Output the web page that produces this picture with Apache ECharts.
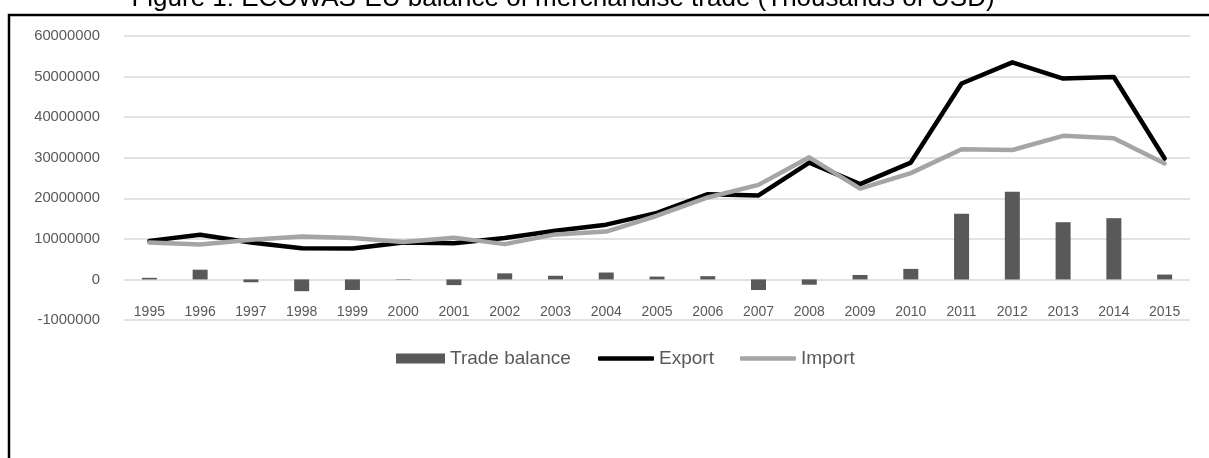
<!DOCTYPE html>
<html>
<head>
<meta charset="utf-8">
<style>
  html, body { margin: 0; padding: 0; background: #ffffff; }
  #chart { width: 1209px; height: 458px; }
</style>
<script src="https://cdn.jsdelivr.net/npm/echarts@6/dist/echarts.min.js"></script>
</head>
<body>
<div id="chart"></div>
<script>
// ECOWAS-EU merchandise trade, thousands of USD
const years = ['1995','1996','1997','1998','1999','2000','2001','2002','2003','2004',
               '2005','2006','2007','2008','2009','2010','2011','2012','2013','2014','2015'];
const tradeBalance = [400000, 2400000, -700000, -2900000, -2600000, -100000, -1400000, 1500000,
                      900000, 1700000, 700000, 800000, -2600000, -1300000, 1100000, 2600000,
                      16200000, 21600000, 14100000, 15100000, 1200000];
const exportVals = [9500000, 11000000, 9100000, 7700000, 7600000, 9100000, 8900000, 10200000,
                    12000000, 13500000, 16400000, 21000000, 20700000, 28800000, 23500000, 28800000,
                    48300000, 53500000, 49500000, 49900000, 29800000];
const importVals = [9100000, 8600000, 9800000, 10600000, 10200000, 9200000, 10300000, 8700000,
                    11100000, 11800000, 15700000, 20200000, 23300000, 30100000, 22400000, 26200000,
                    32100000, 31900000, 35400000, 34800000, 28600000];
const yTickLabels = ['-1000000','0','10000000','20000000','30000000','40000000','50000000','60000000'];
const titleText = 'Figure 1: ECOWAS-EU balance of merchandise trade (Thousands of USD)';

const FONT = '"Liberation Sans", Arial, sans-serif';
const Y_MIN = -10000000, Y_STEP = 10000000;

const chart = echarts.init(document.getElementById('chart'), null, { renderer: 'canvas' });
chart.setOption({
  animation: false,
  backgroundColor: '#ffffff',
  textStyle: { fontFamily: FONT },
  graphic: [
    { type: 'rect', silent: true, shape: { x: 9, y: 15, width: 1400, height: 700 },
      style: { fill: 'none', stroke: '#000000', lineWidth: 2.5 } },
    { type: 'text', silent: true, x: 563, y: 12,
      style: { text: titleText, fontFamily: FONT, fontSize: 26,
               fill: '#000000', align: 'center', verticalAlign: 'bottom' } }
  ],
  grid: { left: 124, right: 19, top: 36, bottom: 138, containLabel: false },
  legend: [
    { // bar key
      left: 391, top: 344,
      itemWidth: 49, itemHeight: 10, itemGap: 26,
      textStyle: { fontFamily: FONT, fontSize: 19, color: '#595959' },
      data: [{ name: 'Trade balance', icon: 'rect' }]
    },
    { // line keys
      left: 593, top: 344,
      itemWidth: 56, itemHeight: 4.5, itemGap: 26,
      textStyle: { fontFamily: FONT, fontSize: 19, color: '#595959' },
      data: [{ name: 'Export', icon: 'roundRect' }, { name: 'Import', icon: 'roundRect' }]
    }
  ],
  xAxis: {
    type: 'category',
    data: years,
    position: 'bottom',
    boundaryGap: true,
    axisLine: { show: false, onZero: false },
    axisTick: { show: false },
    axisLabel: { inside: true, margin: 1, fontFamily: FONT, fontSize: 14, color: '#595959' },
    splitLine: { show: false }
  },
  yAxis: {
    type: 'value',
    min: Y_MIN, max: 60000000, interval: Y_STEP,
    axisLine: { show: false },
    axisTick: { show: false },
    axisLabel: {
      margin: 24, fontFamily: FONT, fontSize: 14.8, color: '#595959',
      formatter: v => yTickLabels[Math.round((v - Y_MIN) / Y_STEP)]
    },
    splitLine: { lineStyle: { color: '#d9d9d9', width: 1.5 } }
  },
  series: [
    { name: 'Trade balance', type: 'bar', data: tradeBalance, barWidth: 15,
      itemStyle: { color: '#595959' } },
    { name: 'Export', type: 'line', data: exportVals, symbol: 'none',
      lineStyle: { color: '#000000', width: 4.5, cap: 'round', join: 'round' },
      itemStyle: { color: '#000000' } },
    { name: 'Import', type: 'line', data: importVals, symbol: 'none',
      lineStyle: { color: '#a5a5a5', width: 4.5, cap: 'round', join: 'round' },
      itemStyle: { color: '#a5a5a5' } }
  ]
});
</script>
</body>
</html>
